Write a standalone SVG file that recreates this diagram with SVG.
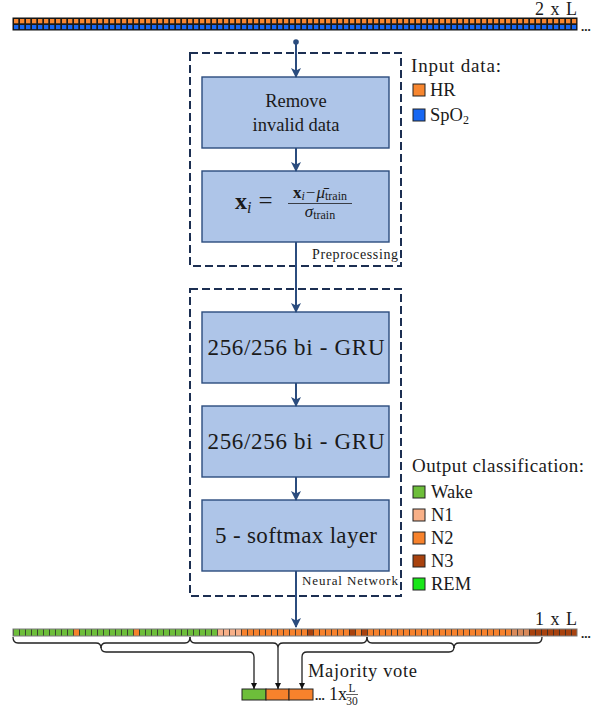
<svg xmlns="http://www.w3.org/2000/svg" width="591" height="713" viewBox="0 0 591 713">
  <style>
    .t { font-family: "Liberation Serif", "Times New Roman", serif; fill: #1a1a1a; }
    .box { fill: #AEC5E8; stroke: #2B4C7E; stroke-width: 1.4; }
    .group { fill: none; stroke: #1C2F52; stroke-width: 2; stroke-dasharray: 8 4; }
    .flow { fill: none; stroke: #2B4C7E; stroke-width: 2; marker-end: url(#ah); }
    .brace { fill: none; stroke: #222; stroke-width: 1.3; }
    .vote { fill: none; stroke: #222; stroke-width: 1.3; marker-end: url(#ah2); }
    .key { stroke: #222; stroke-width: 1; }
    .cellb { stroke: #222; stroke-width: 1; }
  </style>
  <defs>
    <marker id="ah" viewBox="0 0 10 10" refX="9" refY="5" markerWidth="11" markerHeight="10" markerUnits="userSpaceOnUse" orient="auto">
      <path d="M0,0 L10,5 L0,10 L2.5,5 z" fill="#2B4C7E"/>
    </marker>
    <marker id="ah2" viewBox="0 0 10 10" refX="10" refY="5" markerWidth="6" markerHeight="6" markerUnits="userSpaceOnUse" orient="auto">
      <path d="M0,0 L10,5 L0,10 z" fill="#111"/>
    </marker>
    <!-- input sequence cells: HR row and SpO2 row -->
    <pattern id="pHR" x="13" y="18" width="6" height="6" patternUnits="userSpaceOnUse">
      <rect width="6" height="6" fill="#1a1a1a"/>
      <rect x="1" y="1" width="4.3" height="4.3" fill="#F7862F"/>
    </pattern>
    <pattern id="pSpO2" x="13" y="24" width="6" height="6" patternUnits="userSpaceOnUse">
      <rect width="6" height="6" fill="#1a1a1a"/>
      <rect x="1" y="1" width="4.3" height="4.3" fill="#1767F2"/>
    </pattern>
    <!-- separators of the output sequence -->
    <pattern id="pGrid" x="13" y="629" width="6" height="7" patternUnits="userSpaceOnUse">
      <rect x="0" y="0" width="1" height="7" fill="#2a2a2a" opacity="0.8"/>
    </pattern>
  </defs>

  <!-- input sequence (2 x L) -->
  <g id="input-sequence">
    <rect x="13" y="18" width="564" height="6" fill="url(#pHR)"/>
    <rect x="13" y="24" width="564" height="6" fill="url(#pSpO2)"/>
    <rect x="13" y="18" width="564" height="12" fill="none" stroke="#111" stroke-width="1"/>
    <text class="t" x="581" y="31" font-size="13" font-weight="bold">...</text>
    <text class="t" x="535" y="15" font-size="18" textLength="42" xml:space="preserve">2 x L</text>
  </g>

  <!-- preprocessing stage -->
  <g id="preprocessing">
    <rect class="group" x="190" y="53" width="211" height="213"/>
    <text class="t" x="398" y="259" font-size="14" text-anchor="end" textLength="86">Preprocessing</text>
  </g>
  <g id="remove-invalid">
    <rect class="box" x="202" y="77" width="187" height="71"/>
    <text class="t" x="296" y="107" font-size="18.5" text-anchor="middle">Remove</text>
    <text class="t" x="296" y="131" font-size="18.5" text-anchor="middle">invalid data</text>
  </g>
  <g id="normalise">
    <rect class="box" x="202" y="171" width="187" height="71"/>
    <text class="t" x="235" y="209" font-size="24"><tspan font-weight="bold">x</tspan><tspan font-style="italic" font-size="16" dy="4">i</tspan><tspan dx="7" dy="-4" font-size="25">=</tspan></text>
    <text class="t" x="320" y="198" font-size="17" text-anchor="middle"><tspan font-weight="bold">x</tspan><tspan font-style="italic" font-size="12" dy="2">i</tspan><tspan dy="-2" dx="1">−</tspan><tspan font-style="italic" dx="1">μ̄</tspan><tspan font-size="12" dy="2">train</tspan></text>
    <line x1="288" y1="203.5" x2="352" y2="203.5" stroke="#1a1a1a" stroke-width="0.8"/>
    <text class="t" x="320" y="217" font-size="17" text-anchor="middle"><tspan font-style="italic">σ</tspan><tspan font-size="12" dy="2">train</tspan></text>
  </g>

  <!-- neural network stage -->
  <g id="neural-network">
    <rect class="group" x="190" y="289" width="211" height="307"/>
    <text class="t" x="398" y="585" font-size="13" text-anchor="end" textLength="96">Neural Network</text>
  </g>
  <g id="gru-1">
    <rect class="box" x="202" y="312" width="187" height="71"/>
    <text class="t" x="296" y="355" font-size="23" text-anchor="middle" textLength="177">256/256 bi - GRU</text>
  </g>
  <g id="gru-2">
    <rect class="box" x="202" y="406" width="187" height="71"/>
    <text class="t" x="296" y="449" font-size="23" text-anchor="middle" textLength="177">256/256 bi - GRU</text>
  </g>
  <g id="softmax">
    <rect class="box" x="202" y="500" width="187" height="71"/>
    <text class="t" x="296" y="543" font-size="23" text-anchor="middle" textLength="162">5 - softmax layer</text>
  </g>

  <!-- legends -->
  <g id="input-legend">
    <text class="t" x="411" y="72" font-size="19" textLength="90">Input data:</text>
    <rect class="key" x="413" y="84" width="12" height="12" fill="#F7862F"/>
    <text class="t" x="430" y="96" font-size="18.5">HR</text>
    <rect class="key" x="413" y="109" width="12" height="12" fill="#1767F2"/>
    <text class="t" x="430" y="121" font-size="18.5">SpO<tspan font-size="12" dy="3">2</tspan></text>
  </g>
  <g id="output-legend">
    <text class="t" x="412" y="472" font-size="19" textLength="172">Output classification:</text>
    <rect class="key" x="413" y="486" width="12" height="12" fill="#6DBE3A"/>
    <text class="t" x="431" y="498" font-size="18.5">Wake</text>
    <rect class="key" x="413" y="509" width="12" height="12" fill="#F8B088"/>
    <text class="t" x="431" y="521" font-size="18.5">N1</text>
    <rect class="key" x="413" y="532" width="12" height="12" fill="#F7822C"/>
    <text class="t" x="431" y="544" font-size="18.5">N2</text>
    <rect class="key" x="413" y="555" width="12" height="12" fill="#A8420E"/>
    <text class="t" x="431" y="567" font-size="18.5">N3</text>
    <rect class="key" x="413" y="578" width="12" height="12" fill="#19E619"/>
    <text class="t" x="431" y="590" font-size="18.5">REM</text>
  </g>

  <!-- output sequence (1 x L) -->
  <g id="output-sequence">
    <rect x="13" y="629" width="204" height="7" fill="#6DBE3A"/>
    <rect x="73" y="629" width="6" height="7" fill="#F7822C"/>
    <rect x="133" y="629" width="6" height="7" fill="#F7822C"/>
    <rect x="217" y="629" width="24" height="7" fill="#F8B088"/>
    <rect x="241" y="629" width="270" height="7" fill="#F7822C"/>
    <rect x="307" y="629" width="6" height="7" fill="#A8420E"/>
    <rect x="349" y="629" width="6" height="7" fill="#A8420E"/>
    <rect x="361" y="629" width="6" height="7" fill="#A8420E"/>
    <rect x="511" y="629" width="18" height="7" fill="#D98A5A"/>
    <rect x="529" y="629" width="48" height="7" fill="#A8420E"/>
    <rect x="13" y="629" width="564" height="7" fill="url(#pGrid)"/>
    <rect x="13" y="629" width="564" height="7" fill="none" stroke="#7a7a7a" stroke-width="1"/>
    <text class="t" x="581" y="638" font-size="13" font-weight="bold">...</text>
    <text class="t" x="535" y="625" font-size="18" textLength="42" xml:space="preserve">1 x L</text>
  </g>

  <!-- per-window majority vote result -->
  <g id="vote-result">
    <rect class="cellb" x="242" y="689" width="24" height="11" fill="#6DBE3A"/>
    <rect class="cellb" x="266" y="689" width="23" height="11" fill="#F7822C"/>
    <rect class="cellb" x="289" y="689" width="24" height="11" fill="#F7822C"/>
    <text class="t" x="315" y="700" font-size="13" font-weight="bold">...</text>
    <text class="t" x="329" y="700" font-size="18">1x</text>
    <text class="t" x="352" y="692" font-size="11.5" text-anchor="middle">L</text>
    <line x1="346" y1="694.5" x2="358" y2="694.5" stroke="#1a1a1a" stroke-width="0.7"/>
    <text class="t" x="352" y="705" font-size="11.5" text-anchor="middle">30</text>
    <text class="t" x="308" y="677" font-size="18.5" textLength="109">Majority vote</text>
  </g>

  <!-- connectors -->
  <g id="connectors">
    <circle cx="296" cy="42" r="2.8" fill="#2B4C7E"/>
    <path class="flow" d="M296,42 V77"/>
    <path class="flow" d="M296,148 V171"/>
    <path class="flow" d="M296,242 V312"/>
    <path class="flow" d="M296,383 V406"/>
    <path class="flow" d="M296,477 V500"/>
    <path class="flow" d="M296,571 V627"/>
    <!-- windows over the output sequence -->
    <path class="brace" d="M13,637 q0,6 5,6 H96 q5,0 5,5 q0,-5 5,-5 H185 q5,0 5,-6"/>
    <path class="brace" d="M190,637 q0,6 5,6 H273 q5,0 5,5 q0,-5 5,-5 H362 q5,0 5,-6"/>
    <path class="brace" d="M367,637 q0,6 5,6 H449 q5,0 5,5 q0,-5 5,-5 H537 q5,0 5,-6"/>
    <path class="vote" d="M101,647 q0,5 5,5 H249 q5,0 5,5 V689"/>
    <path class="vote" d="M278,648 V689"/>
    <path class="vote" d="M454,647 q0,5 -5,5 H307 q-5,0 -5,5 V689"/>
  </g>
</svg>
